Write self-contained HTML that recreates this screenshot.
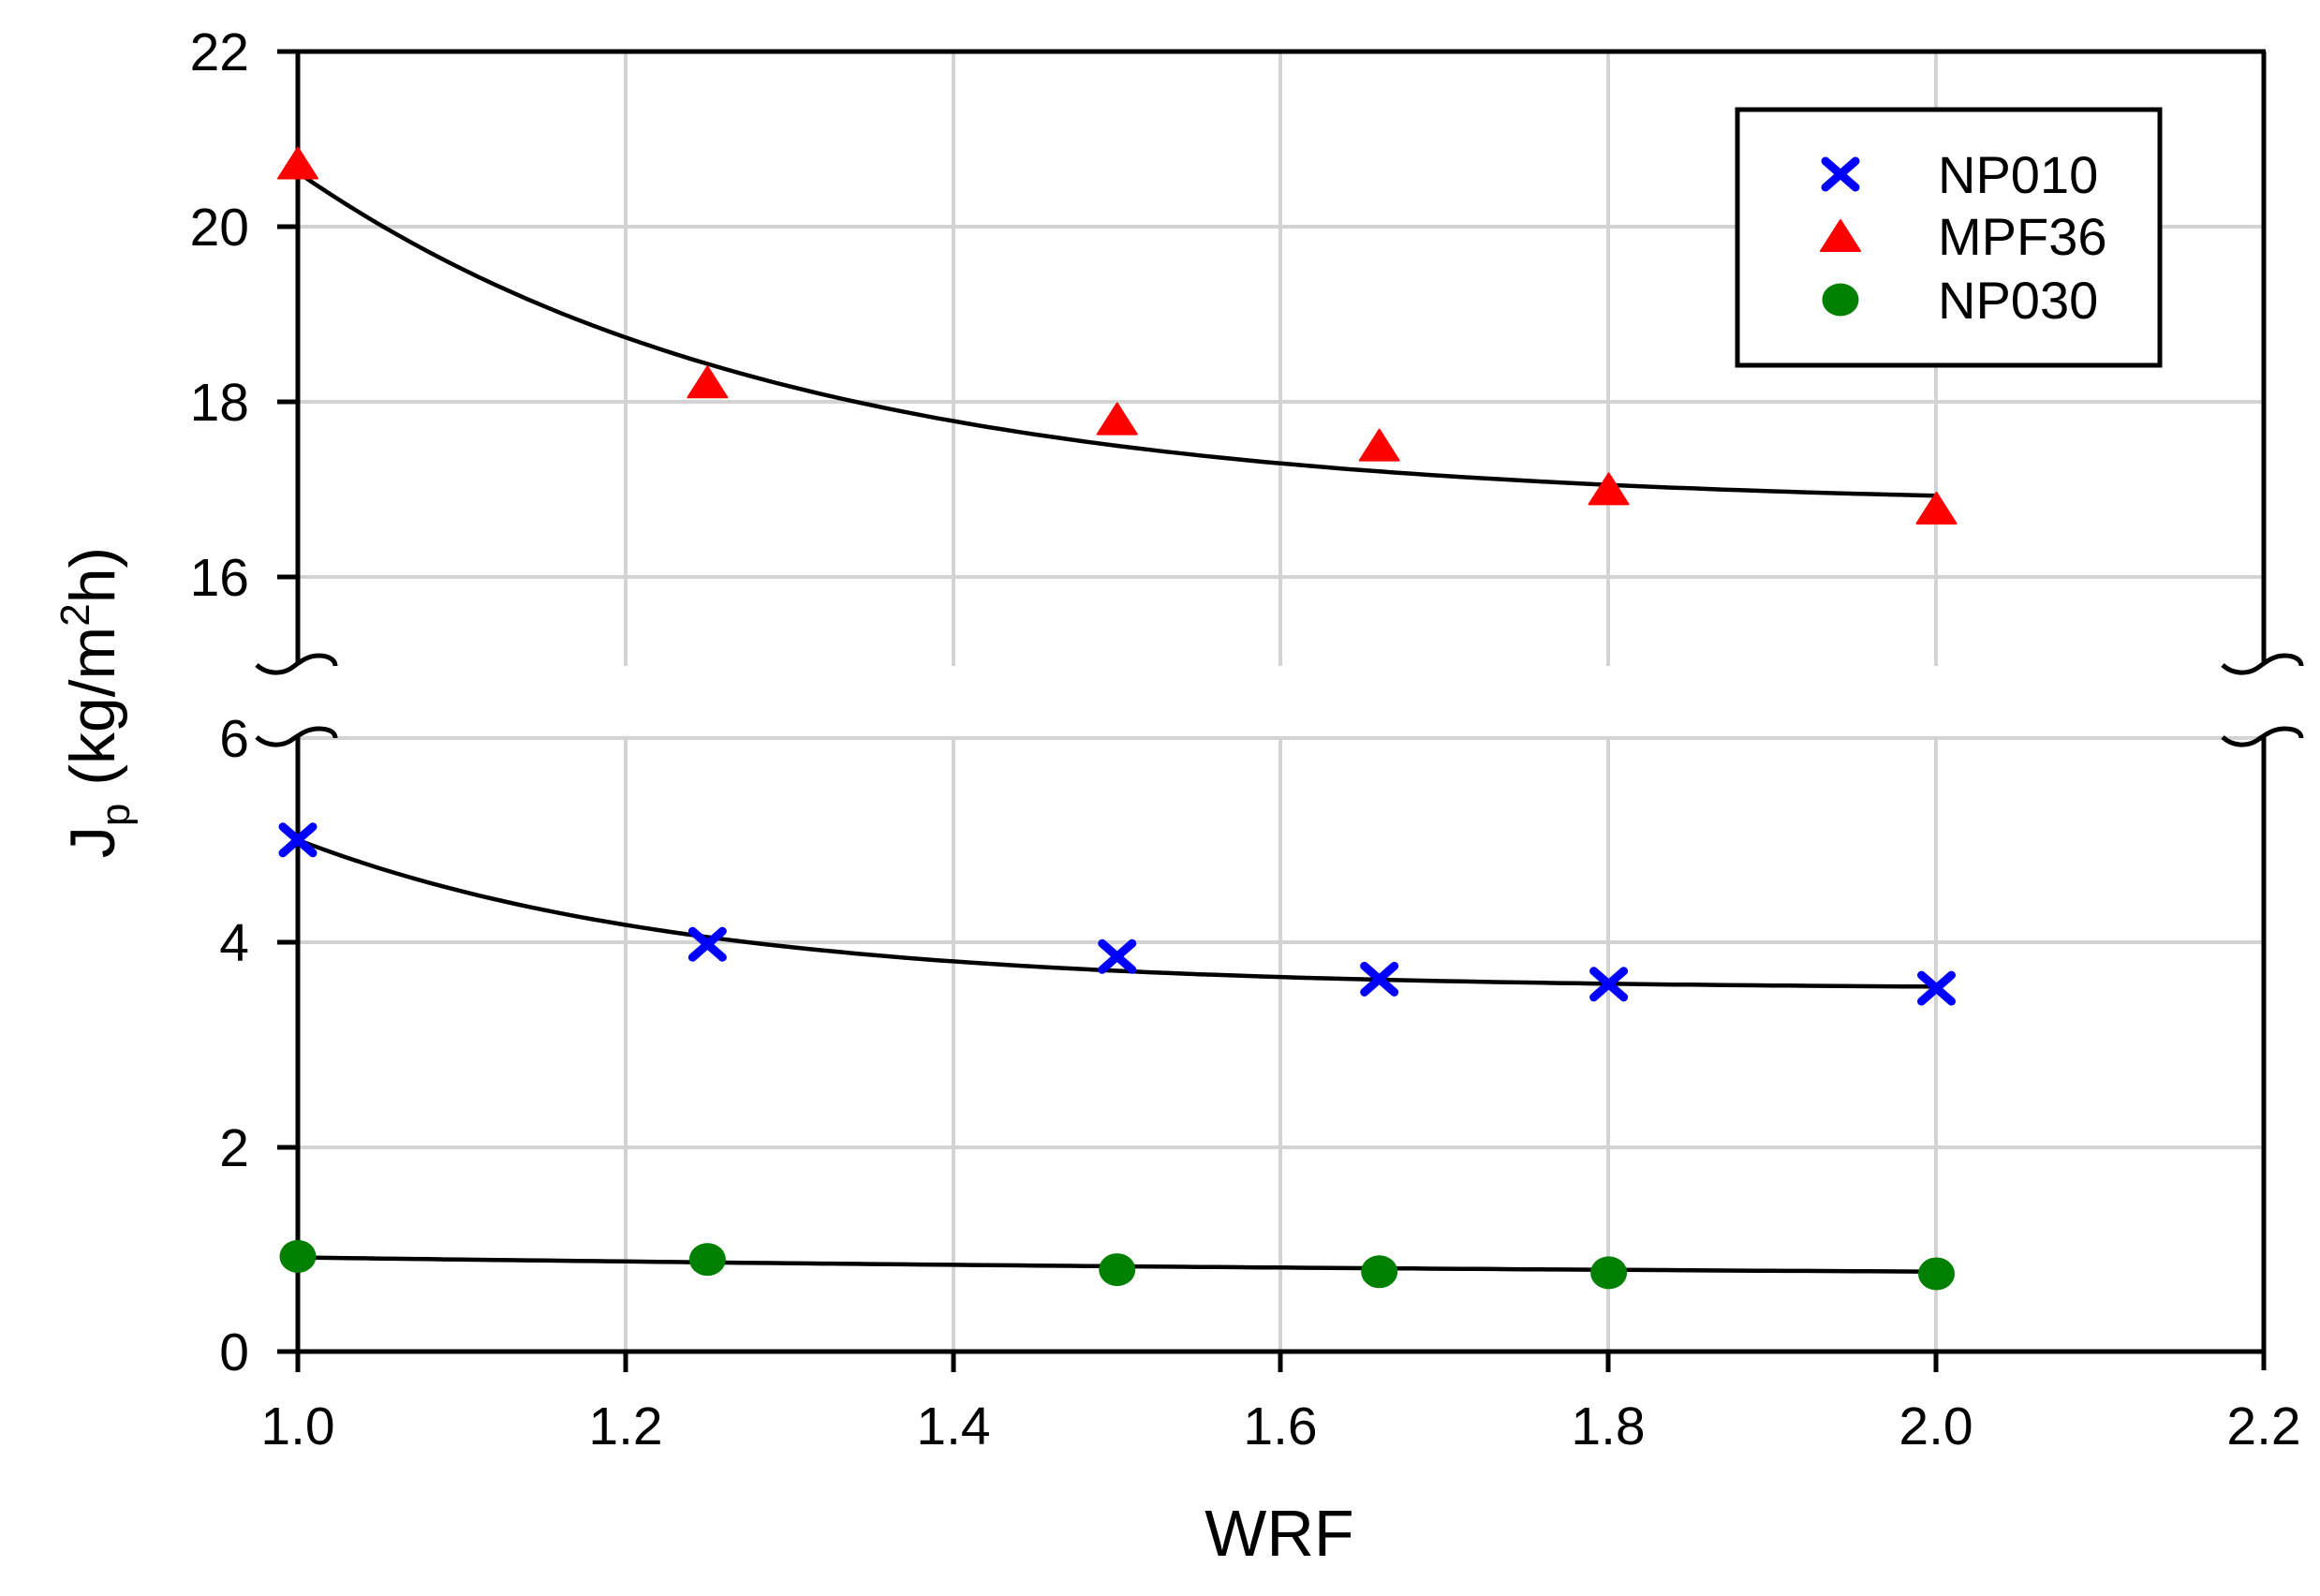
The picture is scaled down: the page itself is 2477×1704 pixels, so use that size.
<!DOCTYPE html>
<html><head><meta charset="utf-8"><style>
html,body{margin:0;padding:0;background:#fff;}
svg{display:block;}
text{font-family:"Liberation Sans",Arial,sans-serif;fill:#000;}
</style></head><body>
<svg width="2477" height="1704" viewBox="0 0 2477 1704" xmlns="http://www.w3.org/2000/svg">
<g stroke="#d3d3d3" stroke-width="4" fill="none">
  <line x1="318" y1="242" x2="2417" y2="242"/>
  <line x1="318" y1="429" x2="2417" y2="429"/>
  <line x1="318" y1="616" x2="2417" y2="616"/>
  <line x1="668" y1="55" x2="668" y2="711"/>
  <line x1="1018" y1="55" x2="1018" y2="711"/>
  <line x1="1367" y1="55" x2="1367" y2="711"/>
  <line x1="1717" y1="55" x2="1717" y2="711"/>
  <line x1="2067" y1="55" x2="2067" y2="711"/>
  <line x1="318" y1="788" x2="2417" y2="788"/>
  <line x1="318" y1="1006" x2="2417" y2="1006"/>
  <line x1="318" y1="1225" x2="2417" y2="1225"/>
  <line x1="668" y1="788" x2="668" y2="1443"/>
  <line x1="1018" y1="788" x2="1018" y2="1443"/>
  <line x1="1367" y1="788" x2="1367" y2="1443"/>
  <line x1="1717" y1="788" x2="1717" y2="1443"/>
  <line x1="2067" y1="788" x2="2067" y2="1443"/>
</g>
<g stroke="#000" stroke-width="5" fill="none">
  <line x1="296" y1="55" x2="2419" y2="55"/>
  <line x1="318" y1="55" x2="318" y2="708"/>
  <line x1="318" y1="784" x2="318" y2="1443"/>
  <line x1="2417" y1="55" x2="2417" y2="708"/>
  <line x1="2417" y1="784" x2="2417" y2="1463"/>
  <line x1="296" y1="1443" x2="2419" y2="1443"/>
  <line x1="296" y1="242" x2="318" y2="242"/>
  <line x1="296" y1="429" x2="318" y2="429"/>
  <line x1="296" y1="616" x2="318" y2="616"/>
  <line x1="296" y1="1006" x2="318" y2="1006"/>
  <line x1="296" y1="1225" x2="318" y2="1225"/>
  <line x1="318" y1="1443" x2="318" y2="1465"/>
  <line x1="668" y1="1443" x2="668" y2="1465"/>
  <line x1="1018" y1="1443" x2="1018" y2="1465"/>
  <line x1="1367" y1="1443" x2="1367" y2="1465"/>
  <line x1="1717" y1="1443" x2="1717" y2="1465"/>
  <line x1="2067" y1="1443" x2="2067" y2="1465"/>
  <path d="M274,710 C285,720 300,720 310,714 C320,707 328,700 340,700 C352,700 358,705 358,711"/>
  <path d="M274,787 C285,797 300,797 310,791 C320,784 328,778 340,778 C352,778 358,782 358,788"/>
  <path d="M2373,710 C2384,720 2399,720 2409,714 C2419,707 2427,700 2439,700 C2451,700 2457,705 2457,711"/>
  <path d="M2373,787 C2384,797 2399,797 2409,791 C2419,784 2427,778 2439,778 C2451,778 2457,782 2457,788"/>
</g>
<g font-size="57" text-anchor="end">
  <text x="266" y="75">22</text>
  <text x="266" y="262">20</text>
  <text x="266" y="449">18</text>
  <text x="266" y="636">16</text>
  <text x="266" y="808">6</text>
  <text x="266" y="1026">4</text>
  <text x="266" y="1245">2</text>
  <text x="266" y="1463">0</text>
</g>
<g font-size="57" text-anchor="middle">
  <text x="318" y="1542">1.0</text>
  <text x="668" y="1542">1.2</text>
  <text x="1018" y="1542">1.4</text>
  <text x="1367" y="1542">1.6</text>
  <text x="1717" y="1542">1.8</text>
  <text x="2067" y="1542">2.0</text>
  <text x="2417" y="1542">2.2</text>
</g>
<text x="1366" y="1661" font-size="70" text-anchor="middle">WRF</text>
<text transform="translate(122,750) rotate(-90)" font-size="68" text-anchor="middle">J<tspan font-size="44" dy="16">p</tspan><tspan dy="-16"> (kg/m</tspan><tspan font-size="44" dy="-27">2</tspan><tspan dy="27">h)</tspan></text>
<g stroke="#000" stroke-width="4.5" fill="none">
<path id="c1" d=""/>
<path id="c2" d=""/>
<path id="c3" d=""/>
</g>
<g id="markers"></g>
<rect x="1855" y="117" width="451" height="273" fill="#fff" stroke="#000" stroke-width="5"/>
<g font-size="56">
  <text x="2069" y="206">NP010</text>
  <text x="2069" y="272">MPF36</text>
  <text x="2069" y="340">NP030</text>
</g>
<g id="leg"></g>
<script>
(function(){
  var NS="http://www.w3.org/2000/svg";
  function X(v){return 318+(v-1)*1749.5;}
  function YU(v){return 55+(22-v)*93.5;}
  function YL(v){return 1443-v*109.25;}
  function curve(id,f,Y){var d="";for(var i=0;i<=100;i++){var x=1+i/100;d+=(i?"L":"M")+X(x).toFixed(1)+","+Y(f(x)).toFixed(1);}document.getElementById(id).setAttribute("d",d);}
  curve("c1",function(x){return 16.8+3.82*Math.exp(-3.4*(x-1));},YU);
  curve("c2",function(x){return 3.545+1.455*Math.exp(-4.23*(x-1));},YL);
  curve("c3",function(x){return 0.70+0.22*Math.exp(-1.0*(x-1));},YL);
  var g=document.getElementById("markers");
  function tri(p,cx,cy){var e=document.createElementNS(NS,"polygon");e.setAttribute("points",(cx)+","+(cy-19)+" "+(cx-21)+","+(cy+14)+" "+(cx+21)+","+(cy+14));e.setAttribute("fill","#ff0000");e.setAttribute("stroke","#ff0000");e.setAttribute("stroke-width","2");e.setAttribute("stroke-linejoin","round");p.appendChild(e);}
  function cross(p,cx,cy){var e=document.createElementNS(NS,"path");e.setAttribute("d","M"+(cx-16)+","+(cy-14)+"L"+(cx+16)+","+(cy+14)+"M"+(cx+16)+","+(cy-14)+"L"+(cx-16)+","+(cy+14));e.setAttribute("stroke","#0000ff");e.setAttribute("stroke-width","9");e.setAttribute("stroke-linecap","round");p.appendChild(e);}
  function dot(p,cx,cy){var e=document.createElementNS(NS,"ellipse");e.setAttribute("cx",cx);e.setAttribute("cy",cy);e.setAttribute("rx",19.5);e.setAttribute("ry",17.5);e.setAttribute("fill","#008000");p.appendChild(e);}
  var xs=[1,1.25,1.5,1.66,1.8,2.0];
  var m=[20.7,18.2,17.78,17.48,16.98,16.76];
  var n1=[5.0,3.98,3.86,3.64,3.59,3.55];
  var n3=[0.93,0.9,0.8,0.78,0.77,0.76];
  for(var i=0;i<6;i++){tri(g,X(xs[i]),YU(m[i]));cross(g,X(xs[i]),YL(n1[i]));dot(g,X(xs[i]),YL(n3[i]));}
  var l=document.getElementById("leg");
  cross(l,1965,186);tri(l,1965,254);dot(l,1965,320);
})();
</script>
</svg>
</body></html>
